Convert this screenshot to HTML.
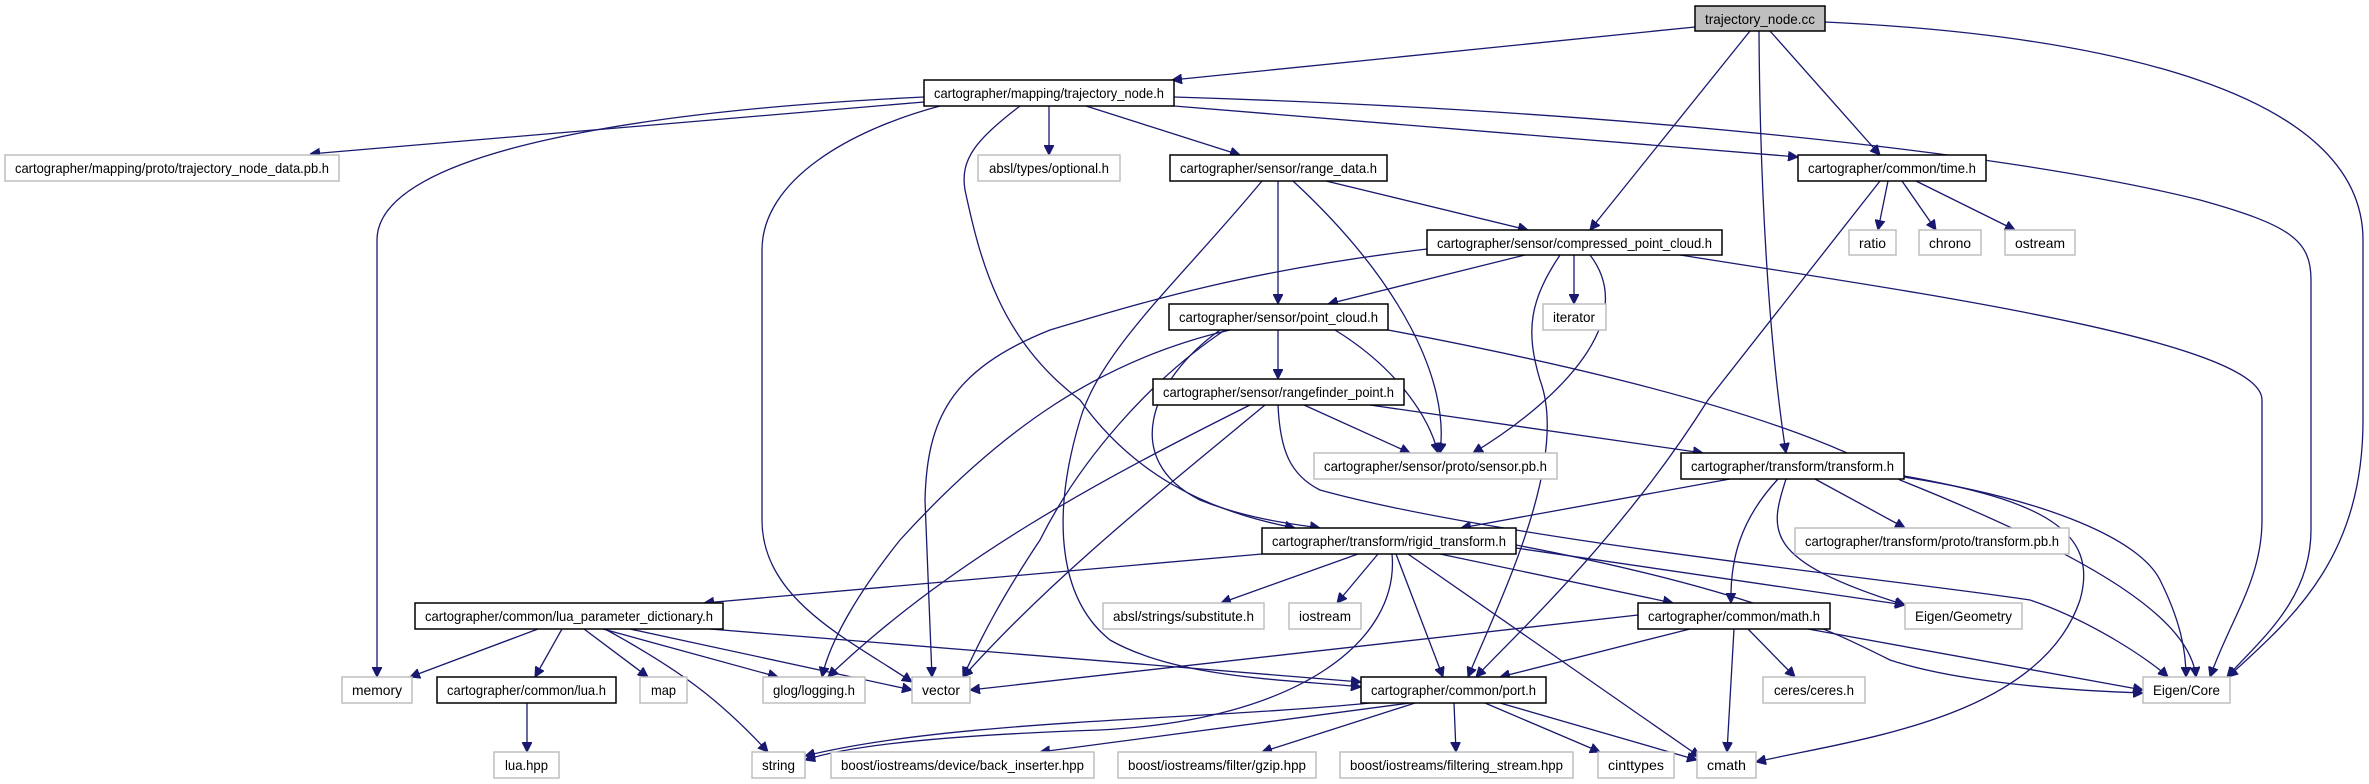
<!DOCTYPE html>
<html><head><meta charset="utf-8"><style>
html,body{margin:0;padding:0;background:#fff;}
svg{display:block;}
text{font-family:"Liberation Sans",sans-serif;font-size:14px;fill:#000;}
.n{fill:#fff;stroke:#000;stroke-width:1.5;}
.g{fill:#fff;stroke:#bfbfbf;stroke-width:1.5;}
.e{fill:none;stroke:#191970;stroke-width:1.3;marker-end:url(#a);}
</style></head><body>
<svg width="2369" height="784" viewBox="0 0 2369 784" xmlns="http://www.w3.org/2000/svg">
<defs><marker id="a" viewBox="0 0 10 10" refX="10" refY="5" markerWidth="10" markerHeight="10" markerUnits="userSpaceOnUse" orient="auto"><path d="M0,0 L10,5 L0,10 z" fill="#191970" stroke="#191970"/></marker></defs>
<g>
<path class="e" d="M1695,27 L1172,80"/>
<path class="e" d="M1750,31 L1590,230"/>
<path class="e" d="M1759,31 C1760,200 1770,350 1786,453"/>
<path class="e" d="M1770,31 L1880,155"/>
<path class="e" d="M1825,22 C2100,35 2363,90 2363,240 L2363,420 C2363,560 2290,620 2228,677"/>
<path class="e" d="M924,102 L310,154"/>
<path class="e" d="M924,97 C650,110 377,150 377,240 L377,677"/>
<path class="e" d="M1049,106 L1049,155"/>
<path class="e" d="M1086,106 L1240,155"/>
<path class="e" d="M940,106 C850,130 762,180 762,250 L762,520 C762,600 850,640 912,682"/>
<path class="e" d="M1020,106 C975,140 960,160 965,190 C980,260 1000,340 1080,400 C1130,470 1200,510 1295,528"/>
<path class="e" d="M1174,106 L1798,157"/>
<path class="e" d="M1174,97 C1600,110 2000,150 2200,200 C2290,225 2311,240 2311,280 L2311,530 C2311,600 2260,640 2227,677"/>
<!-- time.h -->
<path class="e" d="M1888,181 L1878,230"/>
<path class="e" d="M1902,181 L1936,230"/>
<path class="e" d="M1916,181 L2015,230"/>
<path class="e" d="M1880,181 L1708,400 C1620,540 1510,640 1476,677"/>
<path class="e" d="M1278,181 L1278,304"/>
<path class="e" d="M1326,181 L1528,230"/>
<path class="e" d="M1293,181 C1400,280 1450,380 1440,453"/>
<path class="e" d="M1262,181 C1180,280 1100,350 1080,420 C1050,520 1060,600 1110,640 C1180,680 1300,680 1361,687"/>
<path class="e" d="M1525,255 L1328,304"/>
<path class="e" d="M1574,255 L1574,304"/>
<path class="e" d="M1427,249 C1250,270 1150,300 1050,330 C950,370 927,420 925,500 L932,677"/>
<path class="e" d="M1590,255 C1640,320 1560,400 1473,453"/>
<path class="e" d="M1560,255 C1530,300 1525,330 1540,380 C1570,460 1500,600 1468,677"/>
<path class="e" d="M1680,255 C1900,290 2262,340 2262,400 L2262,520 C2262,580 2230,620 2210,677"/>
<path class="e" d="M1278,330 L1278,379"/>
<path class="e" d="M1230,330 C1100,360 1000,430 900,540 C860,590 830,640 822,677"/>
<path class="e" d="M1225,330 C1150,380 1080,460 1040,540 C1000,600 980,640 963,677"/>
<path class="e" d="M1220,330 C1150,380 1120,460 1200,500 C1250,520 1300,525 1320,528"/>
<path class="e" d="M1335,330 C1400,370 1430,420 1438,453"/>
<path class="e" d="M1388,330 C1600,370 1800,420 1900,480 C2100,560 2190,620 2196,677"/>
<path class="e" d="M1304,405 L1410,453"/>
<path class="e" d="M1370,405 L1703,453"/>
<path class="e" d="M1250,405 C1100,480 950,560 828,677"/>
<path class="e" d="M1265,405 C1150,500 1050,580 963,677"/>
<path class="e" d="M1278,405 C1280,450 1290,475 1320,490 C1500,540 1900,580 2030,600 C2090,620 2150,660 2168,677"/>
<path class="e" d="M1730,479 L1461,528"/>
<path class="e" d="M1778,479 C1740,520 1730,560 1731,603"/>
<path class="e" d="M1786,479 C1770,530 1760,560 1905,605"/>
<path class="e" d="M1815,479 L1905,528"/>
<path class="e" d="M1904,477 C2050,500 2140,540 2160,580 C2180,620 2186,650 2186,677"/>
<path class="e" d="M1904,476 C2040,500 2100,530 2080,600 C2040,720 1850,740 1756,762"/>
<path class="e" d="M1262,554 L704,603"/>
<path class="e" d="M1358,554 L1221,603"/>
<path class="e" d="M1378,554 L1337,603"/>
<path class="e" d="M1392,554 C1400,640 1300,720 1100,730 C950,735 850,745 805,760"/>
<path class="e" d="M1396,554 L1443,677"/>
<path class="e" d="M1408,554 L1700,757"/>
<path class="e" d="M1440,554 L1673,603"/>
<path class="e" d="M1516,548 L1905,605"/>
<path class="e" d="M1516,545 C1750,590 1830,630 1890,660 C1950,680 2050,690 2143,693"/>
<path class="e" d="M538,629 L410,677"/>
<path class="e" d="M562,629 L535,677"/>
<path class="e" d="M584,629 L648,677"/>
<path class="e" d="M605,629 C680,670 720,700 768,752"/>
<path class="e" d="M603,629 L778,677"/>
<path class="e" d="M630,629 L912,690"/>
<path class="e" d="M710,629 L1361,682"/>
<path class="e" d="M527,703 L527,752"/>
<path class="e" d="M1638,615 L970,690"/>
<path class="e" d="M1690,629 L1500,677"/>
<path class="e" d="M1734,629 L1727,752"/>
<path class="e" d="M1748,629 L1795,677"/>
<path class="e" d="M1808,629 L2143,690"/>
<path class="e" d="M1370,703 C1200,720 950,720 805,756"/>
<path class="e" d="M1410,703 L1040,752"/>
<path class="e" d="M1415,703 L1262,752"/>
<path class="e" d="M1454,703 L1456,752"/>
<path class="e" d="M1485,703 L1600,752"/>
<path class="e" d="M1500,703 L1697,760"/>
</g>
<g>
<rect x="1695" y="6" width="130" height="25" fill="#bfbfbf" stroke="#000" stroke-width="1.5"/>
<text x="1705" y="24" textLength="110" lengthAdjust="spacingAndGlyphs">trajectory_node.cc</text>
<rect class="n" x="924" y="80" width="250" height="26"/>
<text x="934" y="98" textLength="230" lengthAdjust="spacingAndGlyphs">cartographer/mapping/trajectory_node.h</text>
<rect class="g" x="5" y="155" width="334" height="26"/>
<text x="15" y="173" textLength="314" lengthAdjust="spacingAndGlyphs">cartographer/mapping/proto/trajectory_node_data.pb.h</text>
<rect class="g" x="978" y="155" width="142" height="26"/>
<text x="989" y="173" textLength="120" lengthAdjust="spacingAndGlyphs">absl/types/optional.h</text>
<rect class="n" x="1170" y="155" width="217" height="26"/>
<text x="1180" y="173" textLength="197" lengthAdjust="spacingAndGlyphs">cartographer/sensor/range_data.h</text>
<rect class="n" x="1798" y="155" width="188" height="26"/>
<text x="1808" y="173" textLength="168" lengthAdjust="spacingAndGlyphs">cartographer/common/time.h</text>
<rect class="n" x="1427" y="230" width="295" height="25"/>
<text x="1437" y="248" textLength="275" lengthAdjust="spacingAndGlyphs">cartographer/sensor/compressed_point_cloud.h</text>
<rect class="g" x="1849" y="230" width="47" height="25"/>
<text x="1859" y="248" textLength="27" lengthAdjust="spacingAndGlyphs">ratio</text>
<rect class="g" x="1919" y="230" width="62" height="25"/>
<text x="1929" y="248" textLength="42" lengthAdjust="spacingAndGlyphs">chrono</text>
<rect class="g" x="2005" y="230" width="70" height="25"/>
<text x="2015" y="248" textLength="50" lengthAdjust="spacingAndGlyphs">ostream</text>
<rect class="n" x="1169" y="304" width="219" height="26"/>
<text x="1179" y="322" textLength="199" lengthAdjust="spacingAndGlyphs">cartographer/sensor/point_cloud.h</text>
<rect class="g" x="1543" y="304" width="63" height="26"/>
<text x="1553" y="322" textLength="42" lengthAdjust="spacingAndGlyphs">iterator</text>
<rect class="n" x="1153" y="379" width="251" height="26"/>
<text x="1163" y="397" textLength="231" lengthAdjust="spacingAndGlyphs">cartographer/sensor/rangefinder_point.h</text>
<rect class="g" x="1314" y="453" width="243" height="26"/>
<text x="1324" y="471" textLength="223" lengthAdjust="spacingAndGlyphs">cartographer/sensor/proto/sensor.pb.h</text>
<rect class="n" x="1681" y="453" width="223" height="26"/>
<text x="1691" y="471" textLength="203" lengthAdjust="spacingAndGlyphs">cartographer/transform/transform.h</text>
<rect class="n" x="1262" y="528" width="254" height="26"/>
<text x="1272" y="546" textLength="234" lengthAdjust="spacingAndGlyphs">cartographer/transform/rigid_transform.h</text>
<rect class="g" x="1795" y="528" width="274" height="26"/>
<text x="1805" y="546" textLength="254" lengthAdjust="spacingAndGlyphs">cartographer/transform/proto/transform.pb.h</text>
<rect class="n" x="415" y="603" width="308" height="26"/>
<text x="425" y="621" textLength="288" lengthAdjust="spacingAndGlyphs">cartographer/common/lua_parameter_dictionary.h</text>
<rect class="g" x="1103" y="603" width="161" height="26"/>
<text x="1113" y="621" textLength="141" lengthAdjust="spacingAndGlyphs">absl/strings/substitute.h</text>
<rect class="g" x="1289" y="603" width="72" height="26"/>
<text x="1299" y="621" textLength="52" lengthAdjust="spacingAndGlyphs">iostream</text>
<rect class="n" x="1638" y="603" width="192" height="26"/>
<text x="1648" y="621" textLength="172" lengthAdjust="spacingAndGlyphs">cartographer/common/math.h</text>
<rect class="g" x="1905" y="603" width="117" height="26"/>
<text x="1915" y="621" textLength="97" lengthAdjust="spacingAndGlyphs">Eigen/Geometry</text>
<rect class="g" x="342" y="677" width="70" height="26"/>
<text x="352" y="695" textLength="50" lengthAdjust="spacingAndGlyphs">memory</text>
<rect class="n" x="437" y="677" width="179" height="26"/>
<text x="447" y="695" textLength="159" lengthAdjust="spacingAndGlyphs">cartographer/common/lua.h</text>
<rect class="g" x="640" y="677" width="47" height="26"/>
<text x="651" y="695" textLength="25" lengthAdjust="spacingAndGlyphs">map</text>
<rect class="g" x="763" y="677" width="102" height="26"/>
<text x="773" y="695" textLength="82" lengthAdjust="spacingAndGlyphs">glog/logging.h</text>
<rect class="g" x="912" y="677" width="58" height="26"/>
<text x="922" y="695" textLength="38" lengthAdjust="spacingAndGlyphs">vector</text>
<rect class="n" x="1361" y="677" width="185" height="26"/>
<text x="1371" y="695" textLength="165" lengthAdjust="spacingAndGlyphs">cartographer/common/port.h</text>
<rect class="g" x="1763" y="677" width="102" height="26"/>
<text x="1774" y="695" textLength="80" lengthAdjust="spacingAndGlyphs">ceres/ceres.h</text>
<rect class="g" x="2143" y="677" width="87" height="26"/>
<text x="2153" y="695" textLength="67" lengthAdjust="spacingAndGlyphs">Eigen/Core</text>
<rect class="g" x="494" y="752" width="65" height="26"/>
<text x="505" y="770" textLength="43" lengthAdjust="spacingAndGlyphs">lua.hpp</text>
<rect class="g" x="752" y="752" width="53" height="26"/>
<text x="762" y="770" textLength="33" lengthAdjust="spacingAndGlyphs">string</text>
<rect class="g" x="831" y="752" width="263" height="26"/>
<text x="841" y="770" textLength="243" lengthAdjust="spacingAndGlyphs">boost/iostreams/device/back_inserter.hpp</text>
<rect class="g" x="1118" y="752" width="198" height="26"/>
<text x="1128" y="770" textLength="178" lengthAdjust="spacingAndGlyphs">boost/iostreams/filter/gzip.hpp</text>
<rect class="g" x="1340" y="752" width="233" height="26"/>
<text x="1350" y="770" textLength="213" lengthAdjust="spacingAndGlyphs">boost/iostreams/filtering_stream.hpp</text>
<rect class="g" x="1598" y="752" width="76" height="26"/>
<text x="1608" y="770" textLength="56" lengthAdjust="spacingAndGlyphs">cinttypes</text>
<rect class="g" x="1697" y="752" width="59" height="26"/>
<text x="1707" y="770" textLength="39" lengthAdjust="spacingAndGlyphs">cmath</text>
</g>
</svg>
</body></html>
